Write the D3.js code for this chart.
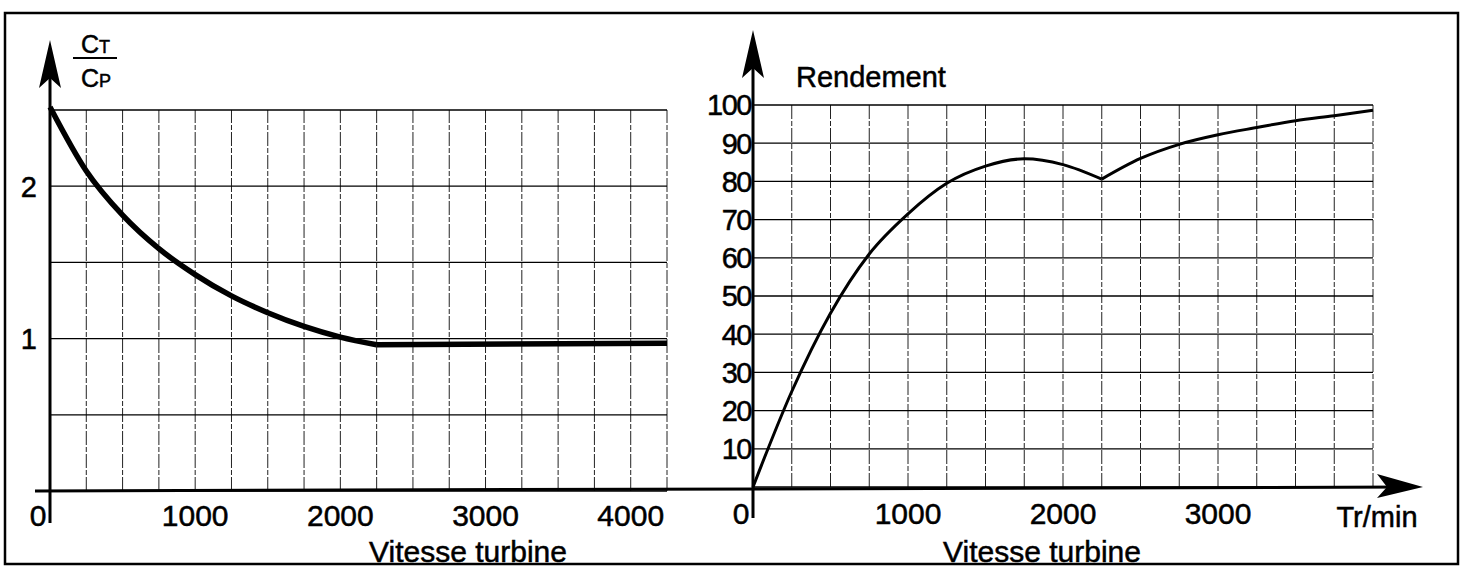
<!DOCTYPE html>
<html>
<head>
<meta charset="utf-8">
<script src="https://cdn.jsdelivr.net/npm/d3@7"></script>
<style>
  body { margin: 0; background: #fff; }
  svg { display: block; }
  text { font-family: "Liberation Sans", Arial, sans-serif; fill: #000; stroke: #000; stroke-width: 0.5px; }
</style>
</head>
<body>
<svg id="chart" width="1467" height="575"></svg>
<script>
// left chart: torque ratio Ct/Cp vs turbine speed
var ratioSpeed = [0, 250, 500, 750, 1000, 1250, 1500, 1750, 2000, 2250, 4250];
var ratioValue = [2.52, 2.10, 1.81, 1.59, 1.42, 1.28, 1.17, 1.08, 1.01, 0.96, 0.97];
var ratioTicksX = [0, 1000, 2000, 3000, 4000];
var ratioTicksY = [1, 2];

// right chart: efficiency (%) vs turbine speed
var effSpeed = [0, 250, 500, 750, 1000, 1250, 1500, 1750, 2000, 2250, 2500, 2750, 3000, 3250, 3500, 3750, 4000];
var effValue = [0, 25, 45.5, 61, 71.5, 79.5, 84, 85.9, 84.4, 80.6, 86.0, 89.7, 92.2, 94.1, 95.9, 97.2, 98.6];
var effTicksX = [0, 1000, 2000, 3000];
var effTicksY = [10, 20, 30, 40, 50, 60, 70, 80, 90, 100];

var svg = d3.select('#chart');

// outer frame
svg.append('rect')
   .attr('x', 5).attr('y', 13)
   .attr('width', 1453).attr('height', 551)
   .attr('fill', 'none')
   .attr('stroke', '#000')
   .attr('stroke-width', 2.5);

var xL = d3.scaleLinear().domain([0, 4250]).range([50, 667]);
var yL = d3.scaleLinear().domain([0, 2.5]).range([491, 110]);
var xR = d3.scaleLinear().domain([0, 4000]).range([753, 1373]);
var yR = d3.scaleLinear().domain([0, 100]).range([487, 105]);

function drawGrid(x, y, xStep, yStep) {
  var g = svg.append('g');
  var xs = d3.range(x.domain()[0], x.domain()[1] + 1, xStep);
  var ys = d3.range(y.domain()[0], y.domain()[1] + yStep / 2, yStep);
  g.selectAll('.vgrid').data(xs).enter().append('line')
   .attr('class', 'vgrid')
   .attr('x1', function(d){ return x(d); })
   .attr('x2', function(d){ return x(d); })
   .attr('y1', y.range()[0])
   .attr('y2', y.range()[1])
   .attr('stroke', '#222')
   .attr('stroke-width', 1)
   .attr('stroke-dasharray', '14,2,5,2');
  g.selectAll('.hgrid').data(ys).enter().append('line')
   .attr('class', 'hgrid')
   .attr('x1', x.range()[0])
   .attr('x2', x.range()[1])
   .attr('y1', function(d){ return y(d); })
   .attr('y2', function(d){ return y(d); })
   .attr('stroke', '#000')
   .attr('stroke-width', 1.3);
}

drawGrid(xL, yL, 250, 0.5);
drawGrid(xR, yR, 250, 10);

// arrow heads (notched)
function arrowUp(cx, tipY) {
  svg.append('path')
     .attr('d', 'M' + cx + ',' + tipY +
                ' L' + (cx + 11) + ',' + (tipY + 48) +
                ' L' + cx + ',' + (tipY + 38) +
                ' L' + (cx - 11) + ',' + (tipY + 48) + ' Z')
     .attr('fill', '#000');
}

// x axis (single line across both charts)
svg.append('line')
   .attr('x1', 35).attr('y1', 491)
   .attr('x2', 1410).attr('y2', 487)
   .attr('stroke', '#000').attr('stroke-width', 3);
svg.append('path')
   .attr('d', 'M1423,487 L1377,474 L1387,487 L1377,498 Z')
   .attr('fill', '#000');

// y axes
svg.append('line')
   .attr('x1', 50).attr('y1', 70).attr('x2', 50).attr('y2', 523)
   .attr('stroke', '#000').attr('stroke-width', 3);
arrowUp(50, 40);
svg.append('line')
   .attr('x1', 753).attr('y1', 60).attr('x2', 753).attr('y2', 518)
   .attr('stroke', '#000').attr('stroke-width', 3);
arrowUp(753, 30);

// curves
var lineL = d3.line()
  .x(function(d){ return xL(d[0]); })
  .y(function(d){ return yL(d[1]); })
  .curve(d3.curveMonotoneX);
var lineR = d3.line()
  .x(function(d){ return xR(d[0]); })
  .y(function(d){ return yR(d[1]); })
  .curve(d3.curveMonotoneX);

var ratioPts = d3.zip(ratioSpeed, ratioValue);
var cornerL = ratioSpeed.indexOf(2250);
[ratioPts.slice(0, cornerL + 1), ratioPts.slice(cornerL)].forEach(function(pts){
  svg.append('path')
     .attr('d', lineL(pts))
     .attr('fill', 'none')
     .attr('stroke', '#000')
     .attr('stroke-width', 5.5)
     .attr('stroke-linejoin', 'round');
});

var effPts = d3.zip(effSpeed, effValue);
var cornerR = effSpeed.indexOf(2250);
[effPts.slice(0, cornerR + 1), effPts.slice(cornerR)].forEach(function(pts){
  svg.append('path')
     .attr('d', lineR(pts))
     .attr('fill', 'none')
     .attr('stroke', '#000')
     .attr('stroke-width', 3);
});

// tick labels
svg.selectAll('.xlabL').data(ratioTicksX).enter().append('text')
   .attr('class', 'xlabL')
   .attr('x', function(d){ return d === 0 ? xL(d) - 12 : xL(d); })
   .attr('y', 526)
   .attr('text-anchor', 'middle')
   .style('font-size', '30px')
   .text(function(d){ return d; });

svg.selectAll('.ylabL').data(ratioTicksY).enter().append('text')
   .attr('class', 'ylabL')
   .attr('x', 37)
   .attr('y', function(d){ return yL(d); })
   .attr('dy', '0.36em')
   .attr('text-anchor', 'end')
   .style('font-size', '29px')
   .text(function(d){ return d; });

svg.selectAll('.xlabR').data(effTicksX).enter().append('text')
   .attr('class', 'xlabR')
   .attr('x', function(d){ return d === 0 ? xR(d) - 12 : xR(d); })
   .attr('y', 524)
   .attr('text-anchor', 'middle')
   .style('font-size', '30px')
   .text(function(d){ return d; });

svg.selectAll('.ylabR').data(effTicksY).enter().append('text')
   .attr('class', 'ylabR')
   .attr('x', 751)
   .attr('y', function(d){ return yR(d); })
   .attr('dy', '0.36em')
   .attr('text-anchor', 'end')
   .attr('letter-spacing', '-1.5')
   .style('font-size', '29px')
   .text(function(d){ return d; });

// titles
svg.append('text').attr('x', 468).attr('y', 562)
   .attr('text-anchor', 'middle').style('font-size', '30px')
   .text('Vitesse turbine');
svg.append('text').attr('x', 1042).attr('y', 562)
   .attr('text-anchor', 'middle').style('font-size', '30px')
   .text('Vitesse turbine');
svg.append('text').attr('x', 1377).attr('y', 527)
   .attr('text-anchor', 'middle').style('font-size', '29px')
   .text('Tr/min');
svg.append('text').attr('x', 796).attr('y', 87)
   .style('font-size', '29px')
   .text('Rendement');

// Ct / Cp fraction
var frac = svg.append('g');
frac.append('text').attr('x', 81).attr('y', 53).style('font-size', '25px')
    .text('C').append('tspan').style('font-size', '18px').text('T');
frac.append('line').attr('x1', 73).attr('x2', 117).attr('y1', 58).attr('y2', 58)
    .attr('stroke', '#000').attr('stroke-width', 2);
frac.append('text').attr('x', 81).attr('y', 87).style('font-size', '25px')
    .text('C').append('tspan').style('font-size', '18px').text('P');
</script>
</body>
</html>
